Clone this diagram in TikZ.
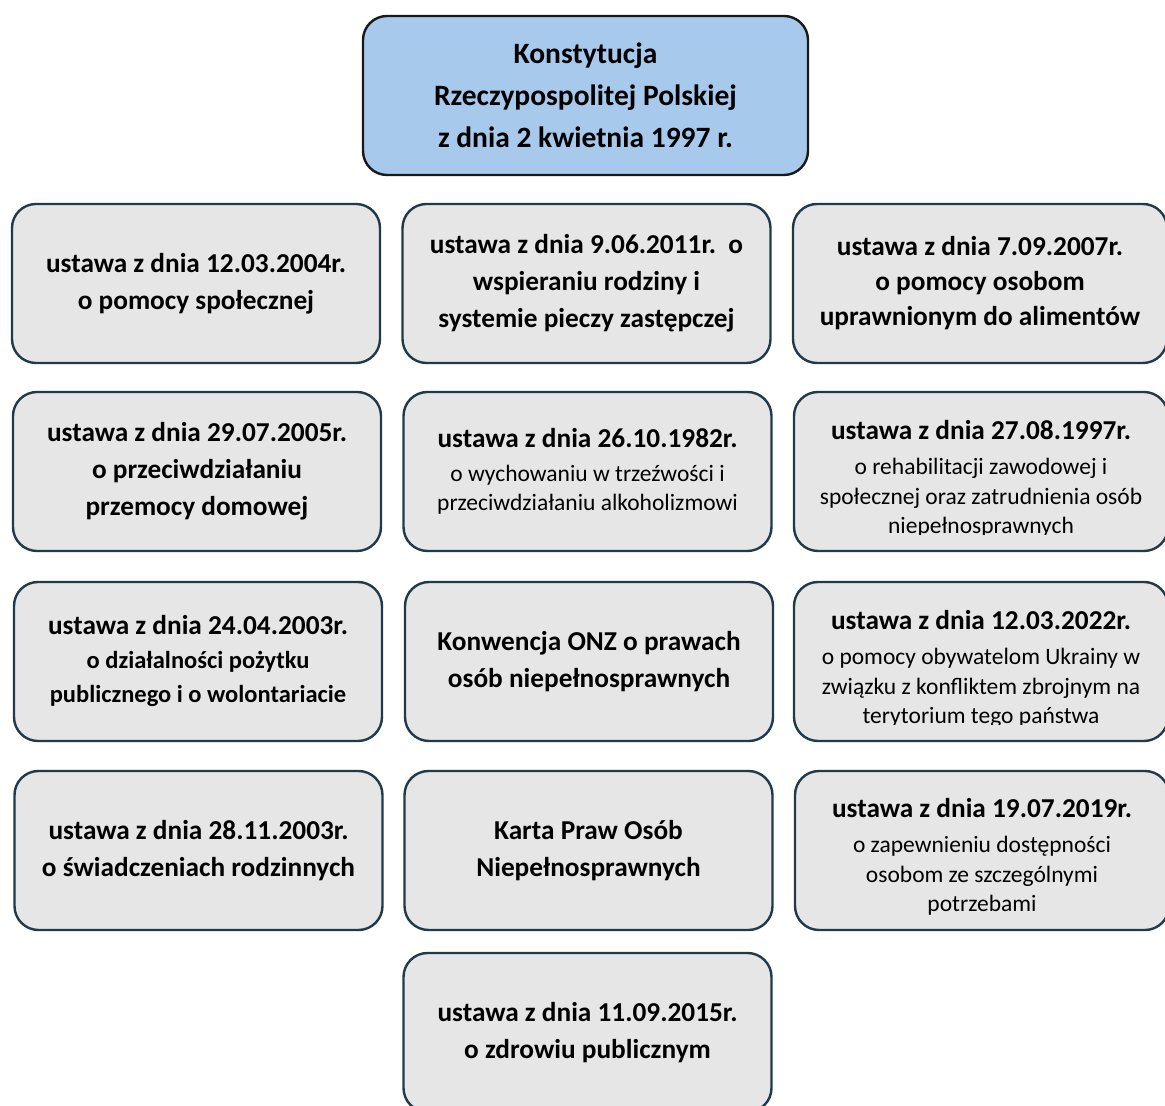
\documentclass[tikz,border=0pt]{standalone}
\usepackage{fontspec}
\setmainfont{Carlito}
\usetikzlibrary{calc}

\definecolor{boxgray}{HTML}{E6E6E6}
\definecolor{boxline}{HTML}{203A4C}
\definecolor{topblue}{HTML}{A6C9EC}
% regular (thin) lines under the bold date line
\newcommand{\reg}{\mdseries\fontsize{23.5}{30}\selectfont}

\begin{document}
\begin{tikzpicture}[x=1pt,y=1pt,
  box/.style={draw=boxline,line width=2.4pt,fill=boxgray,rounded corners=24pt,
    minimum width=368pt,minimum height=159pt,inner sep=0pt,align=center,
    font=\fontsize{27.3}{37}\selectfont\bfseries},
  widebox/.style={box,minimum width=374pt},
  topbox/.style={box,draw=black!90,fill=topblue,minimum width=445pt,
    font=\fontsize{29.5}{42}\selectfont\bfseries},
  lawtext/.style={inner sep=0pt,align=center,anchor=north,
    font=\fontsize{27.3}{37}\selectfont\bfseries}]
\clip (0,0) rectangle (1165,1106);

\node[topbox] (konst) at (585.5,1010.5) {Konstytucja\\Rzeczypospolitej Polskiej\\z dnia 2 kwietnia 1997 r.};

% row 1
\node[box] (pomoc) at (196,822.5) {ustawa z dnia 12.03.2004r.\\o pomocy społecznej};
\node[box] (rodzina) at (586.5,822.5) {ustawa z dnia 9.06.2011r.~~o\\wspieraniu rodziny i\\systemie pieczy zastępczej};
\node[widebox] (alimenty) at (980,822.5) {ustawa z dnia 7.09.2007r.\\[-2pt]o pomocy osobom\\[-2pt]uprawnionym do alimentów};

% row 2
\node[box] (przemoc) at (197,634.5) {ustawa z dnia 29.07.2005r.\\o przeciwdziałaniu\\przemocy domowej};
\node[box] (trzezwosc) at (587.5,634.5) {ustawa z dnia 26.10.1982r.\\[-3pt]\reg o wychowaniu w trzeźwości i\\[-8pt]\reg przeciwdziałaniu alkoholizmowi};
\node[widebox] (rehab) at (981,634.5) {};
\begin{scope}
  \clip ($(rehab.north west)+(0,-4)$) rectangle ($(rehab.south east)+(0,18)$);
  \node[lawtext] (rehabtxt) at ($(rehab.north)+(0,-29)$) {ustawa z dnia 27.08.1997r.\\[-2pt]\reg o rehabilitacji zawodowej i\\[-7pt]\reg społecznej oraz zatrudnienia osób\\[-8pt]\reg niepełnosprawnych};
\end{scope}

% row 3
\node[box] (wolont) at (198,444.5) {ustawa z dnia 24.04.2003r.\\[-3pt]\fontsize{24.5}{30}\selectfont o działalności pożytku\\[-3pt]\fontsize{24.5}{30}\selectfont publicznego i o wolontariacie};
\node[box] (onz) at (589,444.5) {Konwencja ONZ o prawach\\osób niepełnosprawnych};
\node[widebox] (ukraina) at (981,444.5) {};
\begin{scope}
  \clip ($(ukraina.north west)+(0,-4)$) rectangle ($(ukraina.south east)+(0,18)$);
  \node[lawtext] (ukrainatxt) at ($(ukraina.north)+(0,-29)$) {ustawa z dnia 12.03.2022r.\\[-2pt]\reg o pomocy obywatelom Ukrainy w\\[-7pt]\reg związku z konfliktem zbrojnym na\\[-8pt]\reg terytorium tego państwa};
\end{scope}

% row 4
\node[box] (rodzinne) at (198.5,255.5) {ustawa z dnia 28.11.2003r.\\o świadczeniach rodzinnych};
\node[box] (karta) at (588.5,255.5) {Karta Praw Osób\\Niepełnosprawnych};
\node[widebox] (dostep) at (982,255.5) {};
\node[lawtext] (dosteptxt) at ($(dostep.north)+(0,-28)$) {ustawa z dnia 19.07.2019r.\\[-2pt]\reg o zapewnieniu dostępności\\[-7pt]\reg osobom ze szczególnymi\\[-8pt]\reg potrzebami};

% row 5
\node[box] (zdrowie) at (587.5,73.5) {ustawa z dnia 11.09.2015r.\\o zdrowiu publicznym};
\end{tikzpicture}
\end{document}
